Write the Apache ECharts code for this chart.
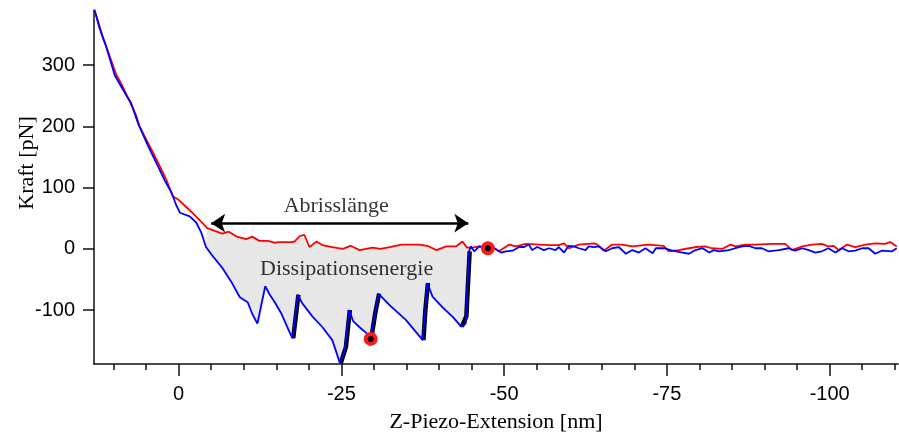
<!DOCTYPE html>
<html>
<head>
<meta charset="utf-8">
<script src="https://cdn.jsdelivr.net/npm/echarts@6/dist/echarts.min.js"></script>
<style>
  html, body { margin: 0; background: #fff; }
  #chart { width: 899px; height: 435px; }
</style>
</head>
<body>
<div id="chart"></div>
<script>
// approach curve (red)
const redX = [12.9, 12.4, 11.6, 10.8, 9.6, 8.5, 7.3, 6.5, 6.0, 4.7, 3.4, 1.9, 0.9, 0.0, -2.1, -4.4, -6.7, -7.7, -8.9, -10.4,
  -11.3, -12.4, -13.7, -14.7, -15.5, -17.3, -17.8, -18.6, -19.3, -20.1, -21.2, -22.1, -23.6, -25.2, -26.4, -27.8, -29.8, -31.0,
  -32.4, -34.2, -37.0, -38.2, -39.6, -41.1, -42.6, -43.6, -44.3, -45.1, -46.2, -47.2, -48.5, -49.2, -50.8, -51.8, -53.3, -55.4,
  -56.9, -58.4, -59.2, -60.0, -61.5, -63.8, -64.3, -65.3, -66.6, -68.1, -69.7, -72.2, -74.5, -75.3, -76.8, -78.4, -79.4, -80.9,
  -81.9, -83.5, -84.8, -85.5, -87.1, -88.6, -91.2, -93.2, -94.2, -95.8, -97.3, -98.8, -99.8, -100.6, -101.4, -102.7, -103.9,
  -105.5, -107.0, -108.5, -109.3, -110.3];
const redY = [388, 373, 343, 321, 285, 263, 236, 217, 200, 173, 146, 113, 86, 80, 59, 34, 25, 28, 20, 16,
  20, 13, 13, 10, 11, 11, 12, 21, 23, 3, 12, 6, 3, 0, 5, -2, 2, 0,
  3, 7, 7, 5, -2, 4, 4, 12, 2, 2, 4, 1, 1, -4, 7, 4, 8, 7,
  6, 6, 9, 1, 7, 9, 7, -3, 7, 7, 4, 7, 5, -4, -2, 1, 3, 4,
  1, 0, 7, 4, 7, 7, 8, 8, -2, 4, 7, 8, 4, 5, -2, 7, 3,
  7, 9, 8, 11, 4];

// retract curve (blue)
const blueX = [12.9, 12.2, 11.3, 9.8, 8.0, 7.3, 6.2, 4.7, 3.4, 2.1, 1.1, 0.4, -0.2, -1.7, -2.7, -3.5, -4.2, -5.1, -6.7, -8.1,
  -9.4, -10.6, -11.3, -12.1, -12.4, -13.3, -14.0, -14.7, -15.8, -17.0, -17.5, -18.3, -19.0, -20.6, -22.1, -23.6, -24.8, -25.5,
  -26.2, -26.8, -28.0, -28.9, -29.5, -30.7, -30.9, -32.4, -34.9, -37.5, -38.2, -39.0, -40.5, -42.1, -43.4, -44.1, -44.6, -44.9,
  -45.4, -46.2, -47.2, -48.5, -49.5, -50.3, -51.3, -52.3, -53.1, -53.8, -54.3, -55.1, -56.1, -56.9, -57.9, -58.4, -59.2, -59.9,
  -60.7, -61.5, -62.5, -63.0, -63.8, -64.6, -65.6, -66.6, -67.6, -68.7, -69.7, -70.7, -71.7, -72.8, -73.3, -74.6, -75.6, -76.4,
  -77.4, -78.4, -79.4, -80.5, -81.5, -82.2, -83.0, -84.5, -85.5, -86.6, -87.6, -88.6, -89.6, -90.6, -92.2, -93.7, -94.7, -95.8,
  -96.8, -97.8, -98.8, -99.8, -100.9, -101.9, -102.9, -103.9, -105.0, -106.0, -107.0, -108.0, -109.6, -110.3];
const blueY = [390, 362, 336, 283, 250, 238, 204, 168, 140, 111, 92, 72, 59, 53, 43, 26, 3, -10, -31, -54,
  -79, -87, -106, -122, -122, -61, -75, -86, -106, -135, -146, -75, -89, -111, -128, -149, -187, -166,
  -100, -118, -130, -138, -146, -73, -70, -92, -116, -149, -56, -78, -95, -111, -127, -122, -4, 4,
  -4, 4, 1, 1, -6, -4, -3, 3, 3, 7, -2, 3, -2, 1, -2, 3, -6, 5,
  4, 1, -2, 4, 3, 4, -4, 1, 3, -8, -2, -6, 1, -7, 1, 1, -2, -4,
  -6, -8, -2, 1, -6, -2, -4, -2, 1, 4, 5, 1, 1, -4, -2, 1, -3, 1,
  -2, -6, -4, 1, -6, 1, -4, -3, 1, 1, -8, -3, -4, 1];

// rupture fits (black)
const fitX = [[-17.6, -18.0, -18.4], [-24.9, -25.7, -26.3], [-29.6, -30.2, -30.8], [-37.6, -37.9, -38.3], [-43.5, -44.2, -44.7]];
const fitY = [[-146, -110, -75], [-187, -160, -100], [-146, -105, -73], [-149, -100, -56], [-127, -110, -4]];

// markers
const markX = [-29.5, -47.5];
const markY = [-147, 1];

// dissipation area bounds
const areaFrom = -4.2;
const areaTo = -44.7;

const xTicks = [0, -25, -50, -75, -100];
const xMinorTicks = [10, 5, 0, -5, -10, -15, -20, -25, -30, -35, -40, -45, -50, -55, -60, -65, -70, -75, -80, -85, -90, -95, -100, -105, -110];
const yTicks = [-100, 0, 100, 200, 300];

const zip = (xs, ys) => xs.map((x, i) => [x, ys[i]]);
const red = zip(redX, redY);
const blue = zip(blueX, blueY);

const inRange = p => p[0] <= areaFrom && p[0] >= areaTo;
const fillPoly = red.filter(inRange).concat(blue.filter(inRange).reverse());

const axisColor = '#111';
const tickFont = { fontFamily: 'Liberation Sans', fontSize: 20, color: '#000' };
const serifFont = { fontFamily: 'Liberation Serif', fontSize: 22, color: '#000' };

const chart = echarts.init(document.getElementById('chart'), null, { renderer: 'canvas' });

const xBase = { type: 'value', min: -110.5, max: 13, inverse: true, position: 'bottom', splitLine: { show: false } };

chart.setOption({
  animation: false,
  grid: { left: 94, right: 1, top: 10, bottom: 71, containLabel: false, outerBoundsMode: 'none' },
  xAxis: [
    {
      ...xBase,
      axisLine: { show: true, onZero: false, lineStyle: { color: axisColor, width: 1.5 } },
      axisTick: { show: true, customValues: xMinorTicks, length: 6, lineStyle: { color: axisColor, width: 1.5 } },
      axisLabel: { show: false },
    },
    {
      ...xBase,
      axisLine: { show: false, onZero: false },
      axisTick: { show: true, customValues: xTicks, length: 12, lineStyle: { color: axisColor, width: 1.5 } },
      axisLabel: { customValues: xTicks, margin: 20, ...tickFont },
      name: 'Z-Piezo-Extension [nm]',
      nameLocation: 'middle',
      nameGap: 47,
      nameMoveOverlap: false,
      nameTextStyle: serifFont,
    },
  ],
  yAxis: {
    type: 'value',
    min: -188,
    max: 390,
    splitLine: { show: false },
    axisLine: { show: true, onZero: false, lineStyle: { color: axisColor, width: 1.5 } },
    axisTick: { show: true, customValues: yTicks, length: 11, lineStyle: { color: axisColor, width: 1.5 } },
    axisLabel: { customValues: yTicks, margin: 19, ...tickFont },
    name: 'Kraft [pN]',
    nameLocation: 'middle',
    nameGap: 56,
    nameRotate: 90,
    nameMoveOverlap: false,
    nameTextStyle: { ...serifFont, padding: [0, 0, 0, 48] },
  },
  series: [
    {
      type: 'custom',
      silent: true,
      z: 1,
      data: fillPoly,
      renderItem: (params, api) => {
        if (params.dataIndex !== 0) return null;
        return {
          type: 'polygon',
          shape: { points: fillPoly.map(p => api.coord(p)) },
          style: { fill: '#e7e7e7' },
        };
      },
    },
    ...fitX.map((xs, i) => ({
      type: 'line',
      z: 2,
      data: zip(xs, fitY[i]),
      symbol: 'none',
      lineStyle: { color: '#000', width: 4.5 },
    })),
    {
      name: 'approach',
      type: 'line',
      z: 3,
      data: red,
      symbol: 'none',
      lineStyle: { color: '#ff0000', width: 1.8 },
    },
    {
      name: 'retract',
      type: 'line',
      z: 4,
      data: blue,
      symbol: 'none',
      lineStyle: { color: '#0000ff', width: 1.8 },
      markLine: {
        silent: true,
        symbol: ['arrow', 'arrow'],
        symbolSize: 14,
        label: { show: false },
        lineStyle: { color: '#000', width: 2.5, type: 'solid' },
        data: [[{ coord: [-5.0, 42] }, { coord: [-44.5, 42] }]],
      },
    },
    {
      type: 'scatter',
      z: 5,
      data: zip(markX, markY),
      symbolSize: 10,
      itemStyle: { color: '#000', borderColor: '#ff1a1a', borderWidth: 4, opacity: 1 },
    },
    {
      type: 'scatter',
      z: 6,
      silent: true,
      symbolSize: 0,
      data: [
        { name: 'Abrisslänge', value: [-24.2, 70] },
        { name: 'Dissipationsenergie', value: [-25.8, -32.6] },
      ],
      label: { show: true, position: 'inside', formatter: '{b}', ...serifFont },
    },
  ],
});
</script>
</body>
</html>
